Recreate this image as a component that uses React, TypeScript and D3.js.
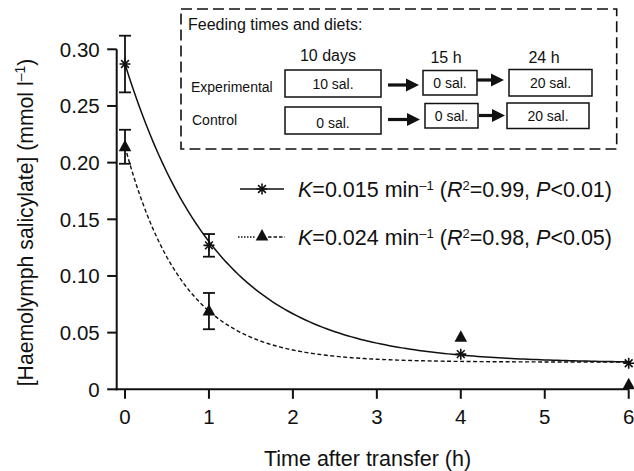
import React from 'react';
import * as d3 from 'd3';

// measured values
const times = [0, 1, 4, 6];
const experimental = [0.287, 0.127, 0.031, 0.023];
const experimentalErr = [0.025, 0.01, 0, 0];
const control = [0.214, 0.069, 0.046, 0.004];
const controlErr = [0.015, 0.016, 0, 0];

const xTicks = [0, 1, 2, 3, 4, 5, 6];
const yTicks = [0, 0.05, 0.1, 0.15, 0.2, 0.25, 0.3];

// fitted exponential decays: y = a * exp(-k t) + c   (k per hour)
const fitExperimental = { a: 0.264, k: 0.015 * 60, c: 0.023 };
const fitControl = { a: 0.19, k: 0.024 * 60, c: 0.024 };

const W = 634;
const H = 471;
const FONT = '"Liberation Sans", Arial, Helvetica, sans-serif';
const INK = '#111';

const x = d3.scaleLinear().domain([0, 6]).range([125, 628.7]);
const y = d3.scaleLinear().domain([0, 0.3]).range([389.3, 49.3]);
const axisX = 116.7;

const Asterisk = ({ cx, cy, r = 5.5 }: { cx: number; cy: number; r?: number }) => {
  const d = d3.range(4).map((i) => {
    const a = (i * Math.PI) / 4;
    const dx = Math.cos(a) * r;
    const dy = Math.sin(a) * r;
    return `M${cx - dx},${cy - dy}L${cx + dx},${cy + dy}`;
  }).join('');
  return <path d={d} stroke={INK} strokeWidth={1.6} fill="none" />;
};

const Triangle = ({ cx, cy }: { cx: number; cy: number }) => (
  <path d={`M${cx},${cy - 7}L${cx + 6.3},${cy + 4.5}L${cx - 6.3},${cy + 4.5}Z`} fill={INK} />
);

const ErrorBar = ({ cx, v, e }: { cx: number; v: number; e: number }) => {
  if (!e) return null;
  const t = y(v + e);
  const b = y(v - e);
  return (
    <g stroke={INK} strokeWidth={1.8}>
      <line x1={cx} x2={cx} y1={t} y2={b} />
      <line x1={cx - 6} x2={cx + 6} y1={t} y2={t} />
      <line x1={cx - 6} x2={cx + 6} y1={b} y2={b} />
    </g>
  );
};

const Arrow = ({ x1, x2, yy }: { x1: number; x2: number; yy: number }) => {
  const head = 13;
  return (
    <g fill={INK}>
      <rect x={x1} y={yy - 1.6} width={x2 - x1 - head + 1} height={3.2} />
      <path d={`M${x2 - head},${yy - 6.5}L${x2},${yy}L${x2 - head},${yy + 6.5}Z`} />
    </g>
  );
};

const DietBox = ({ x0, x1, y0, y1, label, ty }: { x0: number; x1: number; y0: number; y1: number; label: string; ty?: number }) => (
  <g>
    <rect x={x0} y={y0} width={x1 - x0} height={y1 - y0} fill="none" stroke={INK} strokeWidth={1.5} />
    <text x={(x0 + x1) / 2} y={ty ?? (y0 + y1) / 2 + 5} textAnchor="middle" fontSize={14}>{label}</text>
  </g>
);

const Sup = ({ children, size = 13 }: { children: React.ReactNode; size?: number }) => (
  <tspan baselineShift="super" fontSize={size}>{children}</tspan>
);

const fitPath = (p: { a: number; k: number; c: number }) => {
  const ts = d3.range(0, 6.0001, 0.05);
  return d3.line<number>().x((t) => x(t)).y((t) => y(p.a * Math.exp(-p.k * t) + p.c))(ts) || '';
};

export default function App() {
  return (
    <svg width={W} height={H} style={{ position: 'absolute', left: 0, top: 0, background: '#fff' }}
      fontFamily={FONT} fill={INK}>
      {/* axes */}
      <g stroke={INK} strokeWidth={2} fill="none">
        <line x1={axisX} x2={axisX} y1={y(0.3)} y2={y(0) + 1} />
        <line x1={axisX - 1} x2={x(6)} y1={y(0)} y2={y(0)} />
        {yTicks.map((t) => (
          <line key={`yt${t}`} x1={axisX - 9.5} x2={axisX} y1={y(t)} y2={y(t)} />
        ))}
        {xTicks.map((t) => (
          <line key={`xt${t}`} x1={x(t)} x2={x(t)} y1={y(0)} y2={y(0) + 9.5} />
        ))}
      </g>
      <g fontSize={20.5} textAnchor="end">
        {yTicks.map((t) => (
          <text key={`yl${t}`} x={axisX - 17} y={y(t) + 7.3}>{t === 0 ? '0' : d3.format('.2f')(t)}</text>
        ))}
      </g>
      <g fontSize={20.5} textAnchor="middle">
        {xTicks.map((t) => (
          <text key={`xl${t}`} x={x(t)} y={424}>{t}</text>
        ))}
      </g>
      <text x={367.5} y={466} textAnchor="middle" fontSize={21.5}>Time after transfer (h)</text>
      <text transform="translate(33,222.5) rotate(-90)" textAnchor="middle" fontSize={21.2}>
        [Haemolymph salicylate] (mmol l<Sup size={14}>–1</Sup>)
      </text>

      {/* fitted curves */}
      <path d={fitPath(fitExperimental)} fill="none" stroke={INK} strokeWidth={1.5} />
      <path d={fitPath(fitControl)} fill="none" stroke={INK} strokeWidth={1.4} strokeDasharray="4,2.5" />

      {/* error bars and points */}
      {times.map((t, i) => (
        <g key={`e${t}`}>
          <ErrorBar cx={x(t)} v={experimental[i]} e={experimentalErr[i]} />
          <ErrorBar cx={x(t)} v={control[i]} e={controlErr[i]} />
        </g>
      ))}
      {times.map((t, i) => (
        <Asterisk key={`a${t}`} cx={x(t)} cy={y(experimental[i])} />
      ))}
      {times.map((t, i) => (
        <Triangle key={`t${t}`} cx={x(t)} cy={y(control[i])} />
      ))}

      {/* legend */}
      <g fontSize={21.5}>
        <line x1={240} x2={284} y1={189} y2={189} stroke={INK} strokeWidth={1.5} />
        <Asterisk cx={262} cy={189} />
        <text x={298} y={197}>
          <tspan fontStyle="italic">K</tspan>=0.015 min<Sup>–1</Sup>
          <tspan> (</tspan><tspan fontStyle="italic">R</tspan><Sup>2</Sup>
          <tspan>=0.99, </tspan><tspan fontStyle="italic">P</tspan>{'<0.01)'}
        </text>
        <line x1={238} x2={256} y1={237} y2={237} stroke={INK} strokeWidth={1.3} strokeDasharray="1.5,1.5" />
        <line x1={268} x2={285} y1={237} y2={237} stroke={INK} strokeWidth={1.3} strokeDasharray="3.5,2" />
        <Triangle cx={262} cy={236} />
        <text x={298} y={245}>
          <tspan fontStyle="italic">K</tspan>=0.024 min<Sup>–1</Sup>
          <tspan> (</tspan><tspan fontStyle="italic">R</tspan><Sup>2</Sup>
          <tspan>=0.98, </tspan><tspan fontStyle="italic">P</tspan>{'<0.05)'}
        </text>
      </g>

      {/* inset: feeding times and diets */}
      <rect x={181} y={9} width={435.7} height={140} fill="#fff" stroke={INK} strokeWidth={1.6} strokeDasharray="11,5" />
      <text x={188} y={30} fontSize={16}>Feeding times and diets:</text>
      <g fontSize={16} textAnchor="middle">
        <text x={328} y={61}>10 days</text>
        <text x={446} y={63}>15 h</text>
        <text x={544} y={63}>24 h</text>
      </g>
      <text x={191} y={92} fontSize={14}>Experimental</text>
      <text x={192} y={125} fontSize={14}>Control</text>
      <DietBox x0={285} x1={381} y0={70} y1={97} label="10 sal." />
      <DietBox x0={423} x1={477} y0={70.5} y1={95} label="0 sal." />
      <DietBox x0={509} x1={592} y0={69.5} y1={96} label="20 sal." />
      <DietBox x0={285} x1={381} y0={107} y1={134} label="0 sal." ty={128} />
      <DietBox x0={425} x1={478} y0={103.5} y1={128} label="0 sal." ty={121} />
      <DietBox x0={507} x1={589} y0={103} y1={128.5} label="20 sal." ty={121} />
      <Arrow x1={388} x2={419} yy={85} />
      <Arrow x1={477} x2={504} yy={80} />
      <Arrow x1={388} x2={420} yy={119.5} />
      <Arrow x1={479} x2={505} yy={115.5} />
    </svg>
  );
}
